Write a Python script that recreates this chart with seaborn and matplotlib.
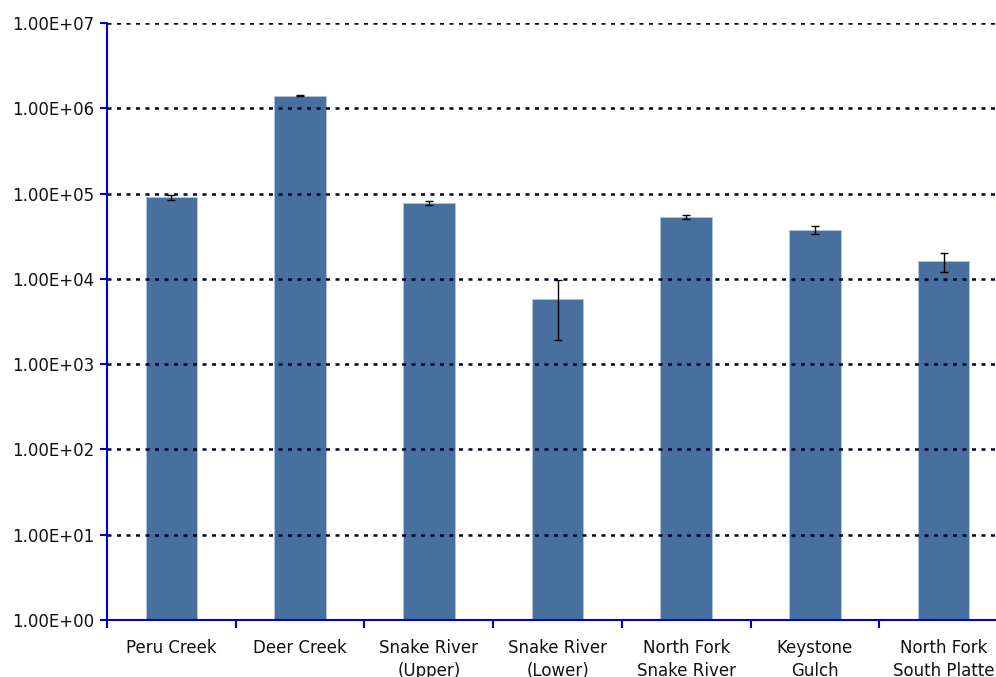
import matplotlib
matplotlib.use("Agg")
import matplotlib.pyplot as plt
import seaborn as sns
import pandas as pd
import numpy as np
from matplotlib.ticker import FuncFormatter, FixedLocator, NullLocator

sites = ["Peru Creek", "Deer Creek", "Snake River\n(Upper)", "Snake River\n(Lower)",
         "North Fork\nSnake River", "Keystone\nGulch", "North Fork\nSouth Platte"]
values = [9.0e4, 1.40e6, 7.7e4, 5.8e3, 5.3e4, 3.75e4, 1.6e4]
errors = [5.0e3, 1.5e4, 4.0e3, 3.9e3, 3.0e3, 4.0e3, 4.0e3]
yticks = [1e0, 1e1, 1e2, 1e3, 1e4, 1e5, 1e6, 1e7]

df = pd.DataFrame({"site": sites, "value": values, "err": errors})

sns.set_style("white")
plt.rcParams['font.family'] = ['DejaVu Sans']

fig = plt.figure(figsize=(9.96, 6.77), dpi=100)
ax = fig.add_axes([107/996, 1 - 620/677, 901/996, (620 - 23)/677])

sns.barplot(data=df, x="site", y="value", color="#47709E", saturation=1,
            width=0.4, errorbar=None, ax=ax, zorder=2, edgecolor="#b5c6dc", linewidth=0.6)
ax.set_yscale("log")
ax.set_ylim(1, 1e7)
ax.set_xlim(-0.5, len(sites) - 0.5)

ax.errorbar(x=np.arange(len(sites)), y=df["value"], yerr=df["err"], fmt="none",
            ecolor="black", elinewidth=1.0, capsize=3.2, capthick=1.0, zorder=4)

ax.yaxis.set_major_locator(FixedLocator(yticks))
ax.yaxis.set_minor_locator(NullLocator())
ax.yaxis.set_major_formatter(FuncFormatter(lambda v, p: f"{v:.2E}"))

for y in yticks:
    ax.axhline(y, color="#000033", linestyle=(0, (1.6, 2.2)), linewidth=1.8, zorder=3)

ax.set_xticks(np.arange(len(sites)))
ax.set_xticklabels(sites, fontsize=12, color="#111111", linespacing=1.35)
ax.tick_params(axis="x", length=0, pad=14)
ax.set_xticks(np.arange(len(sites)) - 0.5, minor=True)
ax.tick_params(axis="x", which="minor", length=6, width=1.5, color="#0000cc", direction="out", bottom=True)
ax.tick_params(axis="y", length=5, width=1.5, color="#0000cc", direction="out", left=True,
               labelsize=12, labelcolor="#111111", pad=4)

for s in ["top", "right"]:
    ax.spines[s].set_visible(False)
for s in ["left", "bottom"]:
    ax.spines[s].set_color("#0000cc")
    ax.spines[s].set_linewidth(1.5)
    ax.spines[s].set_zorder(5)

ax.set_xlabel("")
ax.set_ylabel("")

fig.savefig("out.png", dpi=100)
